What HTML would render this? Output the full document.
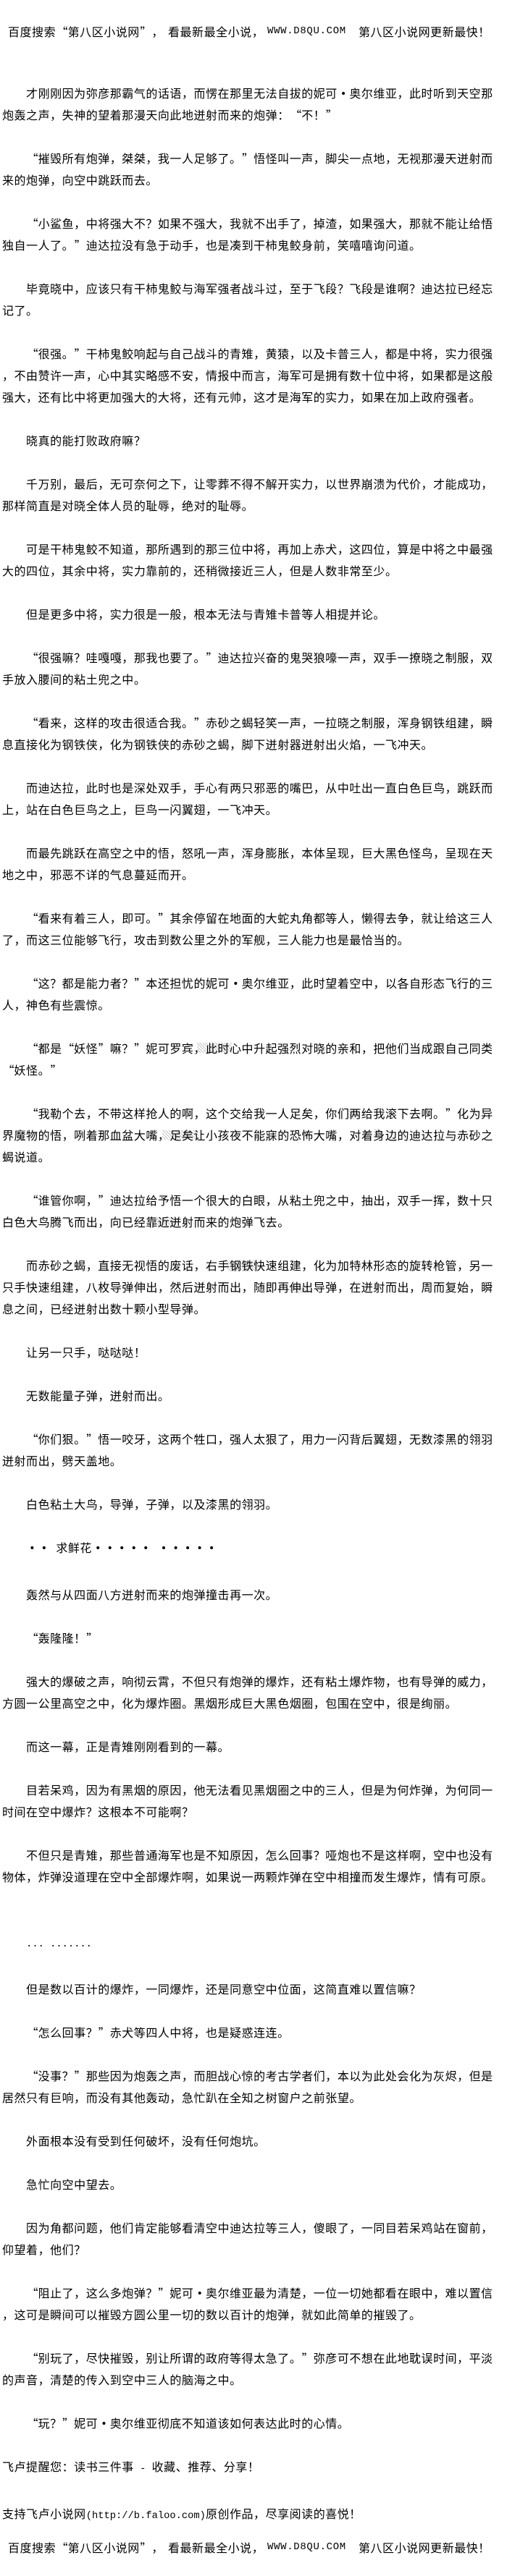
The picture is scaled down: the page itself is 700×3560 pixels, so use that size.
<!DOCTYPE html>
<html lang="zh-CN">
<head>
<meta charset="utf-8">
<title>第八区小说网</title>
<style>
html,body{margin:0;padding:0;background:#fff;}
body{position:relative;width:700px;height:3560px;overflow:hidden;color:#000;font-family:"WenQuanYi Zen Hei","Noto Sans CJK SC",sans-serif;font-size:16px;}
pre{position:absolute;left:3px;top:113px;margin:0;font:inherit;line-height:30px;letter-spacing:.53px;white-space:pre;}
.m{font-family:"Liberation Mono",monospace;font-size:13.78px;letter-spacing:0;}
.h{position:absolute;line-height:30px;letter-spacing:.53px;white-space:pre;}
.u{font-family:"Liberation Mono",monospace;font-size:14px;letter-spacing:.67px;}
i{font-style:normal;display:inline-block;width:16.53px;text-align:right;letter-spacing:0;line-height:16px;}
s{text-decoration:none;display:inline-block;width:16.53px;text-align:center;letter-spacing:0;font-weight:bold;line-height:16px;}
.n{position:absolute;background:repeating-linear-gradient(45deg,#c4c4c4 0 1px,transparent 1px 3px);}
</style>
</head>
<body>
<div class="n" style="left:272px;top:1441px;width:48px;height:14px"></div>
<div class="n" style="left:224px;top:1562px;width:50px;height:13px"></div>
<div class="n" style="left:516px;top:1560px;width:10px;height:12px"></div>
<div class="n" style="left:480px;top:1533px;width:14px;height:14px"></div>
<div class="n" style="left:215px;top:1682px;width:27px;height:13px"></div>
<div class="n" style="left:314px;top:1742px;width:40px;height:15px"></div>
<div class="n" style="left:400px;top:1777px;width:26px;height:10px"></div>
<div class="h" style="left:11px;top:28px">百度搜索<i>“</i>第八区小说网<i>”</i>，</div>
<div class="h" style="left:232px;top:28px">看最新最全小说，</div>
<div class="h u" style="left:369px;top:28px">WWW.D8QU.COM</div>
<div class="h" style="left:495px;top:28px">第八区小说网更新最快！</div>
<pre>　　才刚刚因为弥彦那霸气的话语，而愣在那里无法自拔的妮可<s>·</s>奥尔维亚，此时听到天空那
炮轰之声，失神的望着那漫天向此地迸射而来的炮弹：<i>“</i>不！<i>”</i>

　　<i>“</i>摧毁所有炮弹，桀桀，我一人足够了。<i>”</i>悟怪叫一声，脚尖一点地，无视那漫天迸射而
来的炮弹，向空中跳跃而去。

　　<i>“</i>小鲨鱼，中将强大不？如果不强大，我就不出手了，掉渣，如果强大，那就不能让给悟
独自一人了。<i>”</i>迪达拉没有急于动手，也是凑到干柿鬼鲛身前，笑嘻嘻询问道。

　　毕竟晓中，应该只有干柿鬼鲛与海军强者战斗过，至于飞段？飞段是谁啊？迪达拉已经忘
记了。

　　<i>“</i>很强。<i>”</i>干柿鬼鲛响起与自己战斗的青雉，黄猿，以及卡普三人，都是中将，实力很强
，不由赞许一声，心中其实略感不安，情报中而言，海军可是拥有数十位中将，如果都是这般
强大，还有比中将更加强大的大将，还有元帅，这才是海军的实力，如果在加上政府强者。

　　晓真的能打败政府嘛？

　　千万别，最后，无可奈何之下，让零葬不得不解开实力，以世界崩溃为代价，才能成功，
那样简直是对晓全体人员的耻辱，绝对的耻辱。

　　可是干柿鬼鲛不知道，那所遇到的那三位中将，再加上赤犬，这四位，算是中将之中最强
大的四位，其余中将，实力靠前的，还稍微接近三人，但是人数非常至少。

　　但是更多中将，实力很是一般，根本无法与青雉卡普等人相提并论。

　　<i>“</i>很强嘛？哇嘎嘎，那我也要了。<i>”</i>迪达拉兴奋的鬼哭狼嚎一声，双手一撩晓之制服，双
手放入腰间的粘土兜之中。

　　<i>“</i>看来，这样的攻击很适合我。<i>”</i>赤砂之蝎轻笑一声，一拉晓之制服，浑身钢铁组建，瞬
息直接化为钢铁侠，化为钢铁侠的赤砂之蝎，脚下迸射器迸射出火焰，一飞冲天。

　　而迪达拉，此时也是深处双手，手心有两只邪恶的嘴巴，从中吐出一直白色巨鸟，跳跃而
上，站在白色巨鸟之上，巨鸟一闪翼翅，一飞冲天。

　　而最先跳跃在高空之中的悟，怒吼一声，浑身膨胀，本体呈现，巨大黑色怪鸟，呈现在天
地之中，邪恶不详的气息蔓延而开。

　　<i>“</i>看来有着三人，即可。<i>”</i>其余停留在地面的大蛇丸角都等人，懒得去争，就让给这三人
了，而这三位能够飞行，攻击到数公里之外的军舰，三人能力也是最恰当的。

　　<i>“</i>这？都是能力者？<i>”</i>本还担忧的妮可<s>·</s>奥尔维亚，此时望着空中，以各自形态飞行的三
人，神色有些震惊。

　　<i>“</i>都是<i>“</i>妖怪<i>”</i>嘛？<i>”</i>妮可罗宾，此时心中升起强烈对晓的亲和，把他们当成跟自己同类
<i>“</i>妖怪。<i>”</i>

　　<i>“</i>我勒个去，不带这样抢人的啊，这个交给我一人足矣，你们两给我滚下去啊。<i>”</i>化为异
界魔物的悟，咧着那血盆大嘴，足矣让小孩夜不能寐的恐怖大嘴，对着身边的迪达拉与赤砂之
蝎说道。

　　<i>“</i>谁管你啊，<i>”</i>迪达拉给予悟一个很大的白眼，从粘土兜之中，抽出，双手一挥，数十只
白色大鸟腾飞而出，向已经靠近迸射而来的炮弹飞去。

　　而赤砂之蝎，直接无视悟的废话，右手钢铁快速组建，化为加特林形态的旋转枪管，另一
只手快速组建，八枚导弹伸出，然后迸射而出，随即再伸出导弹，在迸射而出，周而复始，瞬
息之间，已经迸射出数十颗小型导弹。

　　让另一只手，哒哒哒！

　　无数能量子弹，迸射而出。

　　<i>“</i>你们狠。<i>”</i>悟一咬牙，这两个牲口，强人太狠了，用力一闪背后翼翅，无数漆黑的翎羽
迸射而出，劈天盖地。

　　白色粘土大鸟，导弹，子弹，以及漆黑的翎羽。

　　<s>·</s><s>·</s><span class="m"> </span>求鲜花<s>·</s><s>·</s><s>·</s><s>·</s><s>·</s><span class="m"> </span><s>·</s><s>·</s><s>·</s><s>·</s><s>·</s>

　　轰然与从四面八方迸射而来的炮弹撞击再一次。

　　<i>“</i>轰隆隆！<i>”</i>

　　强大的爆破之声，响彻云霄，不但只有炮弹的爆炸，还有粘土爆炸物，也有导弹的威力，
方圆一公里高空之中，化为爆炸圈。黑烟形成巨大黑色烟圈，包围在空中，很是绚丽。

　　而这一幕，正是青雉刚刚看到的一幕。

　　目若呆鸡，因为有黑烟的原因，他无法看见黑烟圈之中的三人，但是为何炸弹，为何同一
时间在空中爆炸？这根本不可能啊？

　　不但只是青雉，那些普通海军也是不知原因，怎么回事？哑炮也不是这样啊，空中也没有
物体，炸弹没道理在空中全部爆炸啊，如果说一两颗炸弹在空中相撞而发生爆炸，情有可原。


　　<span class="m">... .......</span>

　　但是数以百计的爆炸，一同爆炸，还是同意空中位面，这简直难以置信嘛？

　　<i>“</i>怎么回事？<i>”</i>赤犬等四人中将，也是疑惑连连。

　　<i>“</i>没事？<i>”</i>那些因为炮轰之声，而胆战心惊的考古学者们，本以为此处会化为灰烬，但是
居然只有巨响，而没有其他轰动，急忙趴在全知之树窗户之前张望。

　　外面根本没有受到任何破坏，没有任何炮坑。

　　急忙向空中望去。

　　因为角都问题，他们肯定能够看清空中迪达拉等三人，傻眼了，一同目若呆鸡站在窗前，
仰望着，他们？

　　<i>“</i>阻止了，这么多炮弹？<i>”</i>妮可<s>·</s>奥尔维亚最为清楚，一位一切她都看在眼中，难以置信
，这可是瞬间可以摧毁方圆公里一切的数以百计的炮弹，就如此简单的摧毁了。

　　<i>“</i>别玩了，尽快摧毁，别让所谓的政府等得太急了。<i>”</i>弥彦可不想在此地耽误时间，平淡
的声音，清楚的传入到空中三人的脑海之中。

　　<i>“</i>玩？<i>”</i>妮可<s>·</s>奥尔维亚彻底不知道该如何表达此时的心情。

飞卢提醒您：读书三件事<span class="m"> - </span>收藏、推荐、分享！

支持飞卢小说网<span class="m">(http://b.faloo.com)</span>原创作品，尽享阅读的喜悦！</pre>
<div class="h" style="left:11px;top:3505px">百度搜索<i>“</i>第八区小说网<i>”</i>，</div>
<div class="h" style="left:232px;top:3505px">看最新最全小说，</div>
<div class="h u" style="left:369px;top:3505px">WWW.D8QU.COM</div>
<div class="h" style="left:495px;top:3505px">第八区小说网更新最快！</div>
</body>
</html>
